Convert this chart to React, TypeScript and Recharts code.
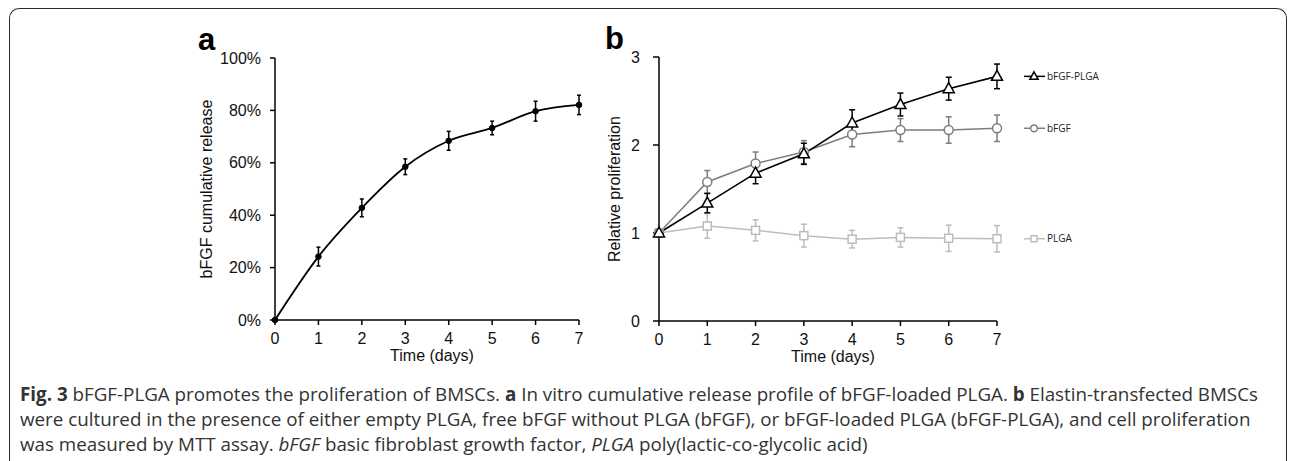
import React from 'react';
import {
  LineChart,
  Line,
  XAxis,
  YAxis,
  ErrorBar,
  LabelList,
} from 'recharts';

// time points (days)
const days = [0, 1, 2, 3, 4, 5, 6, 7];

// panel a: cumulative release (%)
const releasePct = [0, 24.2, 42.8, 58.5, 68.4, 73.3, 79.7, 82.1];
const releaseErr = [0, 3.6, 3.4, 3.0, 3.6, 2.6, 3.8, 3.7];

// panel b: relative proliferation
const bfgfPlga = [1, 1.34, 1.68, 1.9, 2.25, 2.46, 2.64, 2.78];
const bfgfPlgaErr = [0, 0.11, 0.12, 0.12, 0.15, 0.13, 0.13, 0.14];
const bfgf = [1, 1.58, 1.79, 1.92, 2.12, 2.17, 2.17, 2.19];
const bfgfErr = [0, 0.13, 0.13, 0.13, 0.14, 0.13, 0.15, 0.15];
const plga = [1, 1.08, 1.03, 0.97, 0.93, 0.95, 0.94, 0.935];
const plgaErr = [0, 0.14, 0.12, 0.13, 0.1, 0.11, 0.15, 0.15];

const releaseTicks = [0, 20, 40, 60, 80, 100];
const prolifTicks = [0, 1, 2, 3];

const releaseData = days.map((d, i) => ({
  day: d,
  release: releasePct[i],
  releaseErr: releaseErr[i],
}));

const prolifData = days.map((d, i) => ({
  day: d,
  bfgfPlga: bfgfPlga[i],
  bfgfPlgaErr: bfgfPlgaErr[i],
  bfgf: bfgf[i],
  bfgfErr: bfgfErr[i],
  plga: plga[i],
  plgaErr: plgaErr[i],
}));

const BLACK = '#000';
const MID = '#7d7d7d';
const LIGHT = '#bdbdbd';
const chartFont = '"Liberation Sans", Arial, sans-serif';
const captionFont = '"Open Sans", "Noto Sans", sans-serif';

const tickStyle = { fill: '#111', fontSize: 16, fontFamily: chartFont };
const titleStyle = { fill: '#111', fontSize: 16, fontFamily: chartFont };

type Shape = 'tri' | 'circle' | 'square';

function Marker({ shape, cx, cy, color, s = 1 }: { shape: Shape; cx: number; cy: number; color: string; s?: number }) {
  if (shape === 'tri') {
    return (
      <path
        d={`M${cx},${cy - 6 * s} L${cx + 5.5 * s},${cy + 4 * s} L${cx - 5.5 * s},${cy + 4 * s} Z`}
        fill="#fff"
        stroke={color}
        strokeWidth={1.5}
      />
    );
  }
  if (shape === 'circle') {
    return <circle cx={cx} cy={cy} r={4.5 * s} fill="#fff" stroke={color} strokeWidth={1.5} />;
  }
  return (
    <rect x={cx - 4 * s} y={cy - 4 * s} width={8 * s} height={8 * s} fill="#fff" stroke={color} strokeWidth={1.5} />
  );
}

const dotFor = (shape: Shape, color: string) => (p: any) => (
  <Marker key={`${shape}-${p.index}`} shape={shape} cx={p.cx} cy={p.cy} color={color} />
);

// legend entry drawn next to the last point of each series
const endLegend = (shape: Shape, color: string, name: string) => (p: any) => {
  if (p.index !== days.length - 1) return <g />;
  const x0 = Number(p.x);
  const y0 = Number(p.y);
  return (
    <g>
      <line x1={x0 + 27} y1={y0} x2={x0 + 48} y2={y0} stroke={color} strokeWidth={1.5} />
      <Marker shape={shape} cx={x0 + 37} cy={y0} color={color} s={0.75} />
      <text
        x={x0 + 50}
        y={y0}
        dy="0.35em"
        fontSize={10}
        fontFamily={captionFont}
        fill="#222"
      >
        {name}
      </text>
    </g>
  );
};

export default function App() {
  return (
    <div
      style={{
        position: 'relative',
        width: 1290,
        height: 461,
        overflow: 'hidden',
        background: '#fff',
      }}
    >
      <style>{'body{margin:0}'}</style>
      {/* frame */}
      <div
        style={{
          position: 'absolute',
          left: 9,
          top: 8,
          width: 1276,
          height: 480,
          borderTop: '1.5px solid #2b2b2b',
          borderLeft: '1.5px solid #2b2b2b',
          borderRight: '1.5px solid #2b2b2b',
          borderTopLeftRadius: 10,
          borderTopRightRadius: 10,
        }}
      />

      {/* panel a */}
      <div style={{ position: 'absolute', left: 0, top: 0 }}>
        <LineChart
          width={600}
          height={400}
          data={releaseData}
          margin={{ top: 58, right: 21, bottom: 34, left: 0 }}
        >
          <XAxis
            dataKey="day"
            type="number"
            domain={[0, 7]}
            ticks={days}
            height={46}
            stroke={BLACK}
            strokeWidth={1.5}
            tickSize={5}
            tickMargin={8}
            tick={tickStyle}
            label={{ value: 'Time (days)', position: 'insideBottom', offset: 5, dx: 5, style: titleStyle }}
          />
          <YAxis
            type="number"
            domain={[0, 100]}
            ticks={releaseTicks}
            width={275}
            stroke={BLACK}
            strokeWidth={1.5}
            tickSize={5}
            tickMargin={9}
            tick={tickStyle}
            tickFormatter={(v) => `${v}%`}
            label={{ value: 'bFGF cumulative release', angle: -90, position: 'center', dx: 69, style: titleStyle }}
          />
          <Line
            dataKey="release"
            type="monotone"
            stroke={BLACK}
            strokeWidth={1.8}
            dot={{ r: 2.8, fill: BLACK, stroke: BLACK, strokeWidth: 1 }}
            isAnimationActive={false}
          >
            <ErrorBar dataKey="releaseErr" direction="y" width={2} stroke={BLACK} strokeWidth={1.5} />
          </Line>
        </LineChart>
      </div>

      {/* panel b */}
      <div style={{ position: 'absolute', left: 0, top: 0 }}>
        <LineChart
          width={1290}
          height={400}
          data={prolifData}
          margin={{ top: 57, right: 293, bottom: 33, left: 0 }}
        >
          <XAxis
            dataKey="day"
            type="number"
            domain={[0, 7]}
            ticks={days}
            height={46}
            stroke={BLACK}
            strokeWidth={1.5}
            tickSize={5}
            tickMargin={8}
            tick={tickStyle}
            label={{ value: 'Time (days)', position: 'insideBottom', offset: 5, dx: 5, style: titleStyle }}
          />
          <YAxis
            type="number"
            domain={[0, 3]}
            ticks={prolifTicks}
            width={659}
            stroke={BLACK}
            strokeWidth={1.5}
            tickSize={6}
            tickMargin={13}
            tick={tickStyle}
            label={{ value: 'Relative proliferation', angle: -90, position: 'center', dx: 285, style: titleStyle }}
          />
          <Line
            dataKey="plga"
            stroke={LIGHT}
            strokeWidth={1.5}
            dot={dotFor('square', LIGHT)}
            isAnimationActive={false}
          >
            <ErrorBar dataKey="plgaErr" direction="y" width={3} stroke={LIGHT} strokeWidth={1.5} />
            <LabelList dataKey="plga" content={endLegend('square', LIGHT, 'PLGA')} />
          </Line>
          <Line
            dataKey="bfgf"
            stroke={MID}
            strokeWidth={1.5}
            dot={dotFor('circle', MID)}
            isAnimationActive={false}
          >
            <ErrorBar dataKey="bfgfErr" direction="y" width={3} stroke={MID} strokeWidth={1.5} />
            <LabelList dataKey="bfgf" content={endLegend('circle', MID, 'bFGF')} />
          </Line>
          <Line
            dataKey="bfgfPlga"
            stroke={BLACK}
            strokeWidth={1.6}
            dot={dotFor('tri', BLACK)}
            isAnimationActive={false}
          >
            <ErrorBar dataKey="bfgfPlgaErr" direction="y" width={3} stroke={BLACK} strokeWidth={1.5} />
            <LabelList dataKey="bfgfPlga" content={endLegend('tri', BLACK, 'bFGF-PLGA')} />
          </Line>
        </LineChart>
      </div>

      {/* panel letters */}
      <div style={{ position: 'absolute', left: 198, top: 22, font: `bold 31px ${chartFont}`, color: '#000' }}>a</div>
      <div style={{ position: 'absolute', left: 605, top: 21, font: `bold 31px ${chartFont}`, color: '#000' }}>b</div>

      {/* caption */}
      <div
        style={{
          position: 'absolute',
          left: 20,
          top: 382,
          fontFamily: captionFont,
          fontSize: 18.8,
          lineHeight: '25px',
          color: '#333',
          whiteSpace: 'nowrap',
        }}
      >
        <div>
          <b>Fig. 3</b> bFGF-PLGA promotes the proliferation of BMSCs. <b>a</b> In vitro cumulative release profile
          of bFGF-loaded PLGA. <b>b</b> Elastin-transfected BMSCs
        </div>
        <div>
          were cultured in the presence of either empty PLGA, free bFGF without PLGA (bFGF), or bFGF-loaded PLGA
          (bFGF-PLGA), and cell proliferation
        </div>
        <div>
          was measured by MTT assay. <i>bFGF</i> basic fibroblast growth factor, <i>PLGA</i> poly(lactic-co-glycolic
          acid)
        </div>
      </div>
    </div>
  );
}
